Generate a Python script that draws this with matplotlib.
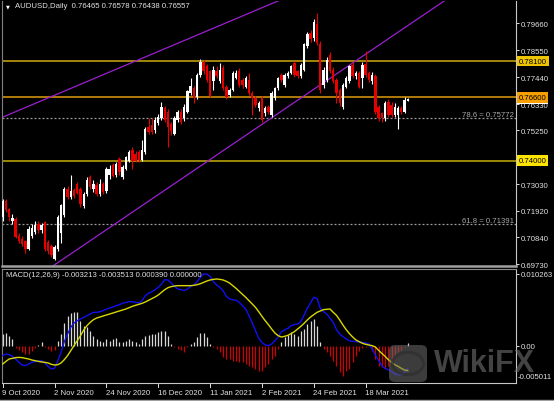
import matplotlib
matplotlib.use('Agg')
import matplotlib.pyplot as plt
import matplotlib.transforms as mtransforms
from matplotlib.patches import FancyBboxPatch, Circle
from matplotlib.lines import Line2D

plt.rcParams['font.family'] = ['Liberation Sans', 'DejaVu Sans']

# ---------------- data ----------------
opens = [.7165, .7232, .7198, .7150, .7160, .7088, .7078, .7066, .7035, .7090,
         .7105, .7140, .7112, .7146, .7065, .7046, .6995, .7035, .7100, .7175,
         .7282, .7250, .7278, .7302, .7282, .7214, .7262, .7330, .7282, .7300,
         .7262, .7303, .7276, .7340, .7380, .7340, .7408, .7334, .7366, .7400,
         .7445, .7428, .7435, .7404, .7435, .7539, .7546, .7525, .7553, .7574,
         .7615, .7600, .7550, .7511, .7567, .7602, .7574, .7602, .7678, .7699,
         .7664, .7754, .7805, .7790, .7768, .7726, .7768, .7726, .7782, .7705,
         .7671, .7692, .7740, .7768, .7733, .7705, .7733, .7678, .7657, .7615,
         .7657, .7595, .7622, .7588, .7657, .7698, .7754, .7712, .7747, .7761,
         .7802, .7768, .7747, .7775, .7872, .7927, .7906, .7965, .7880, .7712,
         .7733, .7837, .7775, .7733, .7692, .7622, .7705, .7726, .7796, .7747,
         .7761, .7740, .7800, .7760, .7726, .7747, .7620, .7595, .7574, .7643,
         .7629, .7588, .7588, .7615, .7601, .76465]
highs = [.7243, .7240, .7205, .7178, .7166, .7100, .7090, .7074, .7130, .7138,
         .7152, .7150, .7142, .7152, .7072, .7055, .7052, .7175, .7222, .7290,
         .7295, .7340, .7288, .7310, .7290, .7270, .7330, .7340, .7318, .7310,
         .7325, .7312, .7372, .7380, .7390, .7395, .7414, .7380, .7420, .7445,
         .7455, .7438, .7442, .7484, .7540, .7574, .7574, .7578, .7592, .7640,
         .7625, .7612, .7560, .7582, .7610, .7612, .7632, .7692, .7741, .7708,
         .7760, .7820, .7815, .7800, .7775, .7790, .7790, .7802, .7795, .7712,
         .7700, .7770, .7775, .7780, .7742, .7750, .7761, .7685, .7665, .7645,
         .7665, .7625, .7630, .7685, .7705, .7745, .7762, .7760, .7768, .7796,
         .7812, .7775, .7802, .7885, .7930, .7940, .7985, .8007, .7895, .7785,
         .7825, .7848, .7785, .7740, .7700, .7720, .7748, .7796, .7805, .7768,
         .7770, .7805, .7851, .7770, .7765, .7755, .7630, .7600, .7645, .7655,
         .7640, .7636, .7625, .7625, .7660, .76578]
lows = [.7150, .7186, .7150, .7140, .7080, .7058, .7046, .7019, .7030, .7080,
        .7098, .7100, .7102, .7028, .7015, .7000, .6991, .7025, .7060, .7165,
        .7240, .7240, .7245, .7260, .7210, .7205, .7255, .7282, .7272, .7255,
        .7255, .7262, .7268, .7325, .7330, .7332, .7340, .7325, .7360, .7395,
        .7365, .7392, .7395, .7398, .7428, .7510, .7508, .7515, .7545, .7568,
        .7560, .7456, .7505, .7505, .7560, .7552, .7565, .7595, .7670, .7636,
        .7655, .7745, .7755, .7725, .7660, .7690, .7740, .7720, .7690, .7655,
        .7660, .7685, .7735, .7705, .7700, .7698, .7670, .7588, .7620, .7605,
        .7560, .7585, .7590, .7580, .7650, .7690, .7725, .7705, .7740, .7755,
        .7745, .7740, .7740, .7770, .7865, .7890, .7895, .7875, .7680, .7700,
        .7725, .7760, .7720, .7636, .7625, .7612, .7698, .7718, .7740, .7738,
        .7698, .7698, .7745, .7722, .7715, .7590, .7565, .7560, .7565, .7580,
        .7580, .7580, .7528, .7590, .7595, .76438]
closes = [.7234, .7195, .7168, .7162, .7086, .7068, .7055, .7033, .7118, .7120,
          .7132, .7112, .7132, .7034, .7028, .7012, .7045, .7165, .7215, .7282,
          .7248, .7275, .7255, .7268, .7220, .7262, .7318, .7290, .7305, .7260,
          .7303, .7270, .7366, .7366, .7338, .7387, .7352, .7373, .7414, .7435,
          .7400, .7400, .7404, .7442, .7532, .7518, .7518, .7567, .7581, .7622,
          .7567, .7540, .7520, .7574, .7602, .7560, .7622, .7685, .7706, .7657,
          .7754, .7805, .7768, .7733, .7668, .7775, .7747, .7775, .7698, .7664,
          .7692, .7761, .7761, .7712, .7712, .7740, .7678, .7657, .7629, .7636,
          .7567, .7615, .7601, .7678, .7698, .7740, .7733, .7754, .7761, .7789,
          .7754, .7747, .7796, .7879, .7920, .7900, .7972, .7885, .7692, .7775,
          .7816, .7768, .7726, .7678, .7636, .7712, .7740, .7789, .7747, .7761,
          .7705, .7796, .7754, .7733, .7754, .7601, .7574, .7574, .7636, .7588,
          .7588, .7622, .7615, .7601, .7650, .76557]

macd_main = [-0.00138, -0.00114, -0.00124, -0.00147, -0.00185, -0.00233, -0.00271, -0.00280, -0.00257, -0.00233,
             -0.00223, -0.00214, -0.00209, -0.00242, -0.00290, -0.00328, -0.00318, -0.00209, -0.00090, 0.00062,
             0.00171, 0.00266, 0.00328, 0.00361, 0.00385, 0.00409, 0.00432, 0.00456, 0.00480, 0.00480,
             0.00489, 0.00504, 0.00527, 0.00542, 0.00556, 0.00575, 0.00589, 0.00608, 0.00622, 0.00632,
             0.00632, 0.00622, 0.00613, 0.00646, 0.00717, 0.00751, 0.00774, 0.00803, 0.00836, 0.00884,
             0.00945, 0.00941, 0.00898, 0.00850, 0.00812, 0.00803, 0.00789, 0.00812, 0.00850, 0.00869,
             0.00917, 0.00979, 0.01026, 0.01026, 0.00993, 0.00917, 0.00869, 0.00836, 0.00789, 0.00708,
             0.00670, 0.00660, 0.00651, 0.00622, 0.00575, 0.00527, 0.00432, 0.00328, 0.00219, 0.00109,
             0.00052, 0.00014, 0.00005, 0.00029, 0.00076, 0.00124, 0.00204, 0.00228, 0.00252, 0.00290,
             0.00304, 0.00314, 0.00347, 0.00442, 0.00537, 0.00613, 0.00694, 0.00679, 0.00537, 0.00489,
             0.00456, 0.00394, 0.00337, 0.00233, 0.00171, 0.00133, 0.00100, 0.00076, 0.00067, 0.00062,
             0.00057, 0.00052, 0.00043, 0.00029, -0.00043, -0.00128, -0.00209, -0.00280, -0.00318, -0.00337,
             -0.00366, -0.00399, -0.00409, -0.00413, -0.00375, -0.003213]
macd_signal = [-0.00257, -0.00219, -0.00185, -0.00176, -0.00166, -0.00162, -0.00166, -0.00176, -0.00185, -0.00200,
               -0.00209, -0.00219, -0.00228, -0.00233, -0.00242, -0.00261, -0.00271, -0.00266, -0.00242, -0.00195,
               -0.00138, -0.00067, 0.00005, 0.00076, 0.00147, 0.00228, 0.00290, 0.00337, 0.00375, 0.00399,
               0.00413, 0.00428, 0.00442, 0.00456, 0.00470, 0.00485, 0.00499, 0.00513, 0.00527, 0.00546,
               0.00565, 0.00580, 0.00594, 0.00608, 0.00627, 0.00651, 0.00675, 0.00698, 0.00727, 0.00765,
               0.00803, 0.00831, 0.00846, 0.00855, 0.00860, 0.00860, 0.00860, 0.00860, 0.00860, 0.00865,
               0.00874, 0.00888, 0.00907, 0.00926, 0.00941, 0.00950, 0.00955, 0.00950, 0.00941, 0.00922,
               0.00898, 0.00860, 0.00822, 0.00779, 0.00736, 0.00694, 0.00646, 0.00599, 0.00551, 0.00489,
               0.00423, 0.00361, 0.00304, 0.00242, 0.00185, 0.00147, 0.00128, 0.00138, 0.00152, 0.00176,
               0.00204, 0.00242, 0.00280, 0.00323, 0.00371, 0.00413, 0.00447, 0.00480, 0.00499, 0.00518,
               0.00523, 0.00527, 0.00480, 0.00437, 0.00371, 0.00299, 0.00233, 0.00176, 0.00128, 0.00086,
               0.00062, 0.00038, 0.00024, 0.00014, 0.00005, -0.00014, -0.00062, -0.00105, -0.00147, -0.00195,
               -0.00233, -0.00266, -0.00290, -0.00318, -0.00342, -0.003513]
macd_hist = [0.00171, 0.00185, 0.00138, 0.00100, -0.00033, -0.00052, -0.00081, -0.00114, -0.00114, -0.00067,
             -0.00033, 0.00014, 0.00052, -0.00010, -0.00043, -0.00067, -0.00052, 0.00076, 0.00171, 0.00328,
             0.00423, 0.00470, 0.00489, 0.00480, 0.00361, 0.00290, 0.00266, 0.00219, 0.00147, 0.00100,
             0.00076, 0.00062, 0.00100, 0.00076, 0.00100, 0.00109, 0.00052, 0.00062, 0.00076, 0.00100,
             0.00076, 0.00052, 0.00029, 0.00100, 0.00138, 0.00157, 0.00171, 0.00171, 0.00195, 0.00219,
             0.00219, 0.00138, 0.00029, -0.00019, -0.00043, -0.00052, -0.00081, -0.00019, 0.00029, 0.00052,
             0.00124, 0.00185, 0.00185, 0.00124, 0.00029, -0.00019, -0.00043, -0.00090, -0.00162, -0.00185,
             -0.00185, -0.00209, -0.00209, -0.00233, -0.00233, -0.00257, -0.00280, -0.00304, -0.00328, -0.00352,
             -0.00352, -0.00304, -0.00257, -0.00185, -0.00138, -0.00043, 0.00052, 0.00124, 0.00157, 0.00204,
             0.00171, 0.00138, 0.00219, 0.00242, 0.00314, 0.00361, 0.00385, 0.00290, 0.00052, -0.00043,
             -0.00090, -0.00138, -0.00209, -0.00280, -0.00375, -0.00423, -0.00352, -0.00328, -0.00233, -0.00138,
             -0.00067, -0.00033, -0.00010, -0.00005, -0.00067, -0.00185, -0.00280, -0.00304, -0.00328, -0.00290,
             -0.00209, -0.00147, -0.00081, -0.00052, -0.00019, 0.00039]

date_ticks = [0, 16, 32, 48, 64, 80, 96, 112]
date_labels = ['9 Oct 2020', '2 Nov 2020', '24 Nov 2020', '16 Dec 2020',
               '11 Jan 2021', '2 Feb 2021', '24 Feb 2021', '18 Mar 2021']
price_ticks = [0.79660, 0.78550, 0.77440, 0.76330, 0.75250,
               0.73030, 0.71920, 0.70840, 0.69730]
levels = [0.78100, 0.76600, 0.74000]
level_colors = ['#B8960B', '#C48A0A', '#B09A08']
level_box = ['#EEC400', '#F5A000', '#FFE400']
fib_levels = [0.75772, 0.71391]
fib_labels = ['78.6 = 0.75772', '61.8 = 0.71391']
bid = 0.76557
upper_line = ([0.0, 100.0], [0.7579, 0.8143])
lower_line = ([15.5, 137.1], [0.6965, 0.8066])

# ---------------- figure ----------------
W, H = 554, 402
fig = plt.figure(figsize=(W / 100, H / 100), dpi=100, facecolor='black')


def px_axes(x0, y0, x1, y1):
    return fig.add_axes([x0 / W, 1 - y1 / H, (x1 - x0) / W, (y1 - y0) / H])


ax = px_axes(2, 2, 516, 267)
axm = px_axes(2, 270, 516, 384)
FS = 5.6
TXT = '#E2E2E2'

for a in (ax, axm):
    a.set_facecolor('black')
    a.set_xlim(-0.22, 158.4)
    a.set_xticks([])
    a.yaxis.tick_right()
    a.tick_params(axis='y', colors='#E0E0E0', labelcolor=TXT, labelsize=FS,
                  length=2.5, width=0.7, pad=1.2)
    for s in a.spines.values():
        s.set_linewidth(0.8)

ax.spines['top'].set_visible(False)
ax.spines['left'].set_color('#808080')
ax.spines['right'].set_color('#C8C8C8')
ax.spines['bottom'].set_color('#A0A0A0')
ax.spines['bottom'].set_linewidth(1.8)
axm.spines['top'].set_color('#8A8A8A')
axm.spines['left'].set_color('#808080')
axm.spines['right'].set_color('#C8C8C8')
axm.spines['bottom'].set_color('#C8C8C8')

ax.set_ylim(0.69648, 0.80580)
ax.set_yticks(price_ticks)
ax.set_yticklabels(['%.5f' % t for t in price_ticks])

# levels
for lv, lc in zip(levels, level_colors):
    ax.axhline(lv, color=lc, lw=1.25, zorder=1)
for fl, ftxt in zip(fib_levels, fib_labels):
    ax.axhline(fl, color='#9A9A9A', lw=0.9, ls=(0, (1.6, 1.6)), zorder=1)
    ax.text(0.996, fl, ftxt, transform=mtransforms.blended_transform_factory(ax.transAxes, ax.transData),
            ha='right', va='bottom', color='#A8A8A8', fontsize=FS)

# trend lines
ax.plot(upper_line[0], upper_line[1], color='#9A1FD0', lw=0.9, zorder=2)
ax.plot(lower_line[0], lower_line[1], color='#9A1FD0', lw=0.9, zorder=2)

# candles
xs = list(range(len(closes)))
bull = '#FFFFFF'
bear = '#E60000'
cols = [bull if c >= o else bear for o, c in zip(opens, closes)]
ax.vlines(xs, lows, highs, colors=cols, lw=0.8, zorder=3)
bottoms = [min(o, c) for o, c in zip(opens, closes)]
heights = [max(abs(c - o), 0.00012) for o, c in zip(opens, closes)]
ax.bar(xs, heights, bottom=bottoms, width=0.74, color=cols, linewidth=0, zorder=4)

# right-side price boxes
bt = mtransforms.blended_transform_factory(ax.transAxes, ax.transData)
ax.text(1.0055, bid, '%.5f' % bid, transform=bt, ha='left', va='center', color='black', fontsize=FS,
        bbox=dict(boxstyle='square,pad=0.22', fc='white', ec='none'), zorder=9, clip_on=False)
for lv, bc in zip(levels, level_box):
    ax.text(1.0055, lv, '%.5f' % lv, transform=bt, ha='left', va='center', color='black', fontsize=FS,
            bbox=dict(boxstyle='square,pad=0.22', fc=bc, ec='none'), zorder=10, clip_on=False)

# MACD panel
axm.set_ylim(-0.005274, 0.010975)
axm.set_yticks([0.010263, 0.0])
axm.set_yticklabels(['0.010263', '0.00'])
hcols = ['#D8D8D8' if h >= 0 else '#D00000' for h in macd_hist]
axm.vlines(xs, 0, macd_hist, colors=hcols, lw=0.9, zorder=2)
axm.plot(xs, macd_main, color='#1010F0', lw=1.0, zorder=3)
axm.plot(xs, macd_signal, color='#D8D800', lw=1.0, zorder=3)
axm.text(1.004, 0.053, '-0.005011', transform=axm.transAxes, ha='left', va='center',
         color=TXT, fontsize=FS, clip_on=False, zorder=5)

# date labels
xt = mtransforms.blended_transform_factory(axm.transData, axm.transAxes)
for d, lab in zip(date_ticks, date_labels):
    axm.add_line(Line2D([d, d], [0, -0.035], transform=xt, color='#E0E0E0', lw=0.7, clip_on=False))
    axm.text(d - 0.1, -0.085, lab, transform=xt, ha='left', va='center', color=TXT,
             fontsize=FS, clip_on=False)


def ft(x, y, s, **kw):
    fig.text(x / W, 1 - y / H, s, **kw)


ft(6, 6.5, '\u25bc', color='white', fontsize=3.6, ha='left', va='center', family=['DejaVu Sans'])
ft(15, 6.5, 'AUDUSD,Daily  0.76465 0.76578 0.76438 0.76557', color=TXT, fontsize=FS,
   ha='left', va='center')
ft(6, 276, 'MACD(12,26,9) -0.003213 -0.003513 0.000390 0.000000', color=TXT, fontsize=FS,
   ha='left', va='center')

# bottom window border
fig.add_artist(Line2D([0, 1], [1 - 400.5 / H, 1 - 400.5 / H], transform=fig.transFigure,
                      color='#A0A0A0', lw=1.0))

# watermark (drawn under the axis label text)
icon = FancyBboxPatch((389 / W, 1 - 383 / H), 38 / W, 37 / H,
                      boxstyle='round,pad=0,rounding_size=0.012',
                      transform=fig.transFigure, fc='#6E6E6E', ec='none', alpha=0.55, zorder=20)
fig.add_artist(icon)
fig.add_artist(Circle((408 / W, 1 - 364.5 / H), 0.028, transform=fig.transFigure,
                      fc='none', ec='#2E2E2E', lw=2.2, alpha=0.7, zorder=21))
ft(434, 364, 'WikiFX', color='#707070', alpha=0.6, fontsize=22, fontweight='bold',
   ha='left', va='center', zorder=21)

fig.savefig('out.png', dpi=100, facecolor='black')
